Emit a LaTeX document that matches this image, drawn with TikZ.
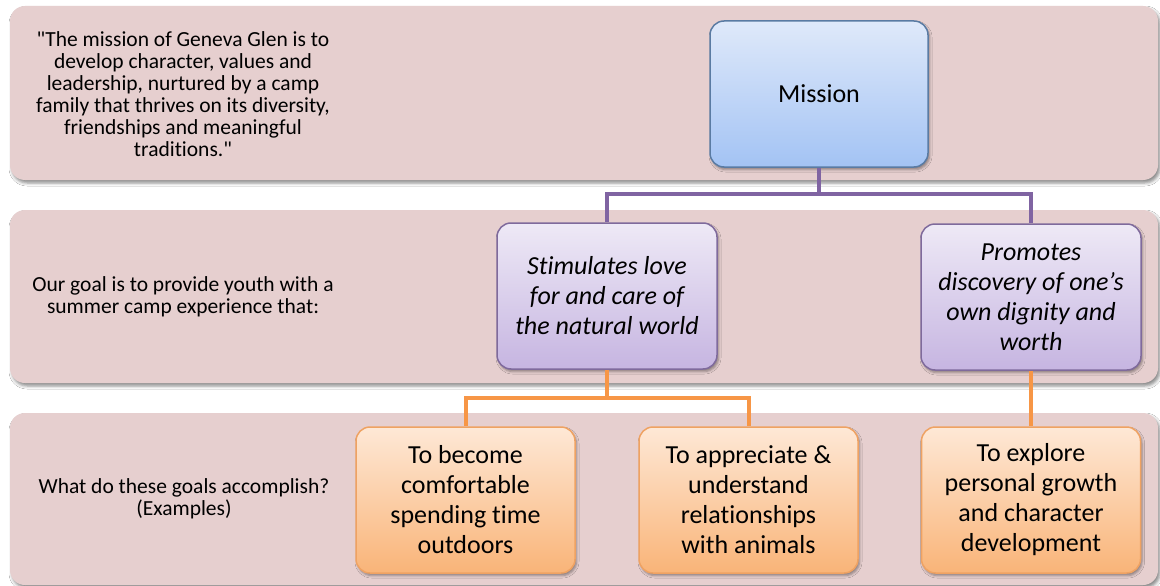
\documentclass[tikz,border=0pt]{standalone}
\usepackage{fontspec}
\setmainfont{Carlito}[Ligatures={TeX,NoCommon}]
\usetikzlibrary{shadows,shadows.blur}
\definecolor{bandfill}{HTML}{E6CFCF}
\definecolor{mtop}{HTML}{DFE9FA}
\definecolor{mbot}{HTML}{A3C3F4}
\definecolor{mdraw}{HTML}{5A7BA3}
\definecolor{ptop}{HTML}{EEE9F6}
\definecolor{pbot}{HTML}{C6B5E1}
\definecolor{pdraw}{HTML}{7F6A9C}
\definecolor{otop}{HTML}{FEE8D6}
\definecolor{obot}{HTML}{F9B478}
\definecolor{odraw}{HTML}{EFA262}
\definecolor{pline}{HTML}{8064A2}
\definecolor{oline}{HTML}{F79646}
\begin{document}
\begin{tikzpicture}[x=1pt,y=-1pt,
  band/.style={fill=bandfill, rounded corners=15pt, minimum width=1148pt, inner sep=0pt,
    blur shadow={shadow xshift=2pt, shadow yshift=-3pt, shadow blur radius=3pt, shadow opacity=45}},
  bandtext/.style={align=center, font=\fontsize{21.5}{22}\selectfont, inner sep=0pt},
  boxbase/.style={rounded corners=14pt, line width=1.5pt, minimum width=219pt, minimum height=146pt,
    align=center, inner sep=0pt, font=\fontsize{26}{30}\selectfont,
    blur shadow={shadow xshift=1.5pt, shadow yshift=-2.5pt, shadow blur radius=2.5pt, shadow opacity=40}},
  missionbox/.style={boxbase, top color=mtop, bottom color=mbot, draw=mdraw},
  goalbox/.style={boxbase, top color=ptop, bottom color=pbot, draw=pdraw, font=\fontsize{26}{30}\selectfont\itshape},
  exbox/.style={boxbase, top color=otop, bottom color=obot, draw=odraw},
  purpleconn/.style={draw=pline, line width=4pt},
  orangeconn/.style={draw=oline, line width=4pt}
]
\useasboundingbox (0,0) rectangle (1160,586);
\fill[white] (0,0) rectangle (1160,586);

% bands
\node[band, minimum height=174pt] (band1) at (584,93) {};
\node[band, minimum height=173pt] (band2) at (584,296.5) {};
\node[band, minimum height=172pt] (band3) at (584,499) {};

% band texts
\node[bandtext] (t1) at (183,94) {\textquotedbl The mission of Geneva Glen is to\\develop character, values and\\leadership, nurtured by a camp\\family that thrives on its diversity,\\friendships and meaningful\\traditions.\textquotedbl};
\node[bandtext] (t2) at (183,297) {Our goal is to provide youth with a\\summer camp experience that:};
\node[bandtext] (t3) at (184,499) {What do these goals accomplish?\\(Examples)};

% connector junctions
\coordinate (mj) at (819,194);
\coordinate (oj) at (607,398);

% boxes
\node[missionbox, minimum width=218pt] (mission) at (819,94) {Mission};
\node[goalbox, minimum width=220pt] (g1) at (607,296) {Stimulates love\\for and care of\\the natural world};
\node[goalbox, minimum width=220pt] (g2) at (1031,297) {Promotes\\discovery of one’s\\own dignity and\\worth};

\node[exbox] (e1) at (465.5,500) {To become\\comfortable\\spending time\\outdoors};
\node[exbox] (e2) at (748.5,500) {To appreciate \&\\understand\\relationships\\with animals};
\node[exbox] (e3) at (1031,500) {To explore\\personal growth\\and character\\development};

% connectors by name
\draw[purpleconn] (mission.south) -- (mj) -| (g1.north);
\draw[purpleconn] (mj) -| (g2.north);
\draw[orangeconn] (g1.south) -- (oj) -| (e1.north);
\draw[orangeconn] (oj) -| (e2.north);
\draw[orangeconn] (g2.south) -- (e3.north);
\end{tikzpicture}
\end{document}
